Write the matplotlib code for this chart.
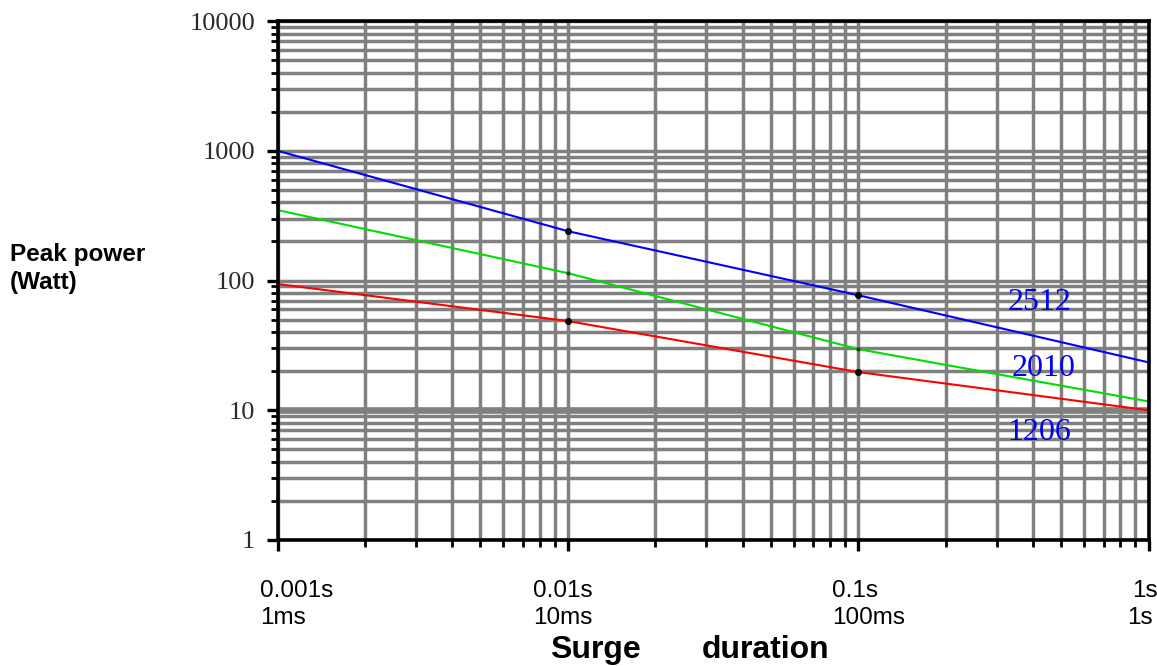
import matplotlib
matplotlib.use("Agg")
import matplotlib.pyplot as plt
from matplotlib import transforms
from matplotlib.ticker import LogLocator, NullFormatter

# ---- data ----
durations = [0.001, 0.01, 0.1, 1.0]
p2512 = [1000, 240, 77, 23.4]
p2010 = [349, 114, 29.6, 11.7]
p1206 = [94, 48.7, 19.7, 10.0]

series_names = ["2512", "2010", "1206"]
series_colors = ["#0000ff", "#00dd00", "#ff0000"]

ytick_vals = [1, 10, 100, 1000, 10000]
ytick_labels = ["1", "10", "100", "1000", "10000"]
xtick_vals = [0.001, 0.01, 0.1, 1.0]
xtick_line1 = ["0.001s", "0.01s", "0.1s", "1s"]
xtick_line2 = ["1ms", "10ms", "100ms", "1s"]

# ---- figure ----
fig = plt.figure(figsize=(11.57, 6.66), dpi=100)
ax = fig.add_axes([277.5 / 1157, 1 - 540 / 666, 871 / 1157, 519 / 666])
ax.set_xscale("log")
ax.set_yscale("log")
ax.set_xlim(0.001, 1)
ax.set_ylim(1, 10000)

grid_col = "#808080"
ax.set_axisbelow(True)
ax.xaxis.set_minor_locator(LogLocator(base=10, subs=range(2, 10)))
ax.yaxis.set_minor_locator(LogLocator(base=10, subs=range(2, 10)))
ax.xaxis.set_minor_formatter(NullFormatter())
ax.yaxis.set_minor_formatter(NullFormatter())
ax.grid(True, which="both", color=grid_col, linewidth=2.5)
ax.axhline(10, color=grid_col, linewidth=4.8, zorder=0.5)

for s in ax.spines.values():
    s.set_linewidth(2.6)
    s.set_color("black")
    s.set_zorder(5)

ax.tick_params(axis="both", which="major", length=8, width=2.4, color="black",
               direction="out", top=False, right=False)
ax.tick_params(axis="both", which="minor", length=5, width=2.0, color="black",
               direction="out", top=False, right=False)

ax.set_yticks(ytick_vals)
ax.set_yticklabels(ytick_labels, fontfamily="Liberation Serif", fontsize=19,
                   color="#2a2a2a")
ax.tick_params(axis="y", which="major", pad=8)
ax.set_xticks(xtick_vals)
ax.set_xticklabels([])

# ---- lines ----
for vals, col in zip([p2512, p2010, p1206], series_colors):
    ax.plot(durations, vals, color=col, linewidth=1.5, zorder=3)
ax.plot(durations[1:3], p2512[1:3], "o", color="black", markersize=4, zorder=4)
ax.plot(durations[1:3], p1206[1:3], "o", color="black", markersize=4, zorder=4)
ax.plot(durations[1:3], p2010[1:3], "o", color="#333333", markersize=2, zorder=4)

# ---- series labels ----
label_pos = [(0.328, 59.3), (0.339, 18.4), (0.326, 5.9)]
for name, (lx, ly) in zip(series_names, label_pos):
    ax.text(lx, ly, name, color="#0000ff", fontfamily="Liberation Serif",
            fontsize=23, ha="left", va="baseline", zorder=6)

# ---- x tick labels (two lines) ----
trans = transforms.blended_transform_factory(ax.transData, fig.transFigure)
off1 = [-17.5, -35, -26, -16.5]
off2 = [-17.5, -35, -26, -21.5]
for xv, t1, t2, d1, d2 in zip(xtick_vals, xtick_line1, xtick_line2, off1, off2):
    tr1 = transforms.offset_copy(trans, fig=fig, x=d1, y=0, units="dots")
    tr2 = transforms.offset_copy(trans, fig=fig, x=d2, y=0, units="dots")
    fig.text(xv, 1 - 597 / 666, t1, transform=tr1, ha="left", va="baseline",
             fontfamily="Liberation Sans", fontsize=17.5, color="black")
    fig.text(xv, 1 - 624 / 666, t2, transform=tr2, ha="left", va="baseline",
             fontfamily="Liberation Sans", fontsize=17.5, color="black")

# ---- axis titles ----
fig.text(550 / 1157, 1 - 658 / 666, "Surge", ha="left", va="baseline",
         fontfamily="Liberation Sans", fontweight="bold", fontsize=23)
fig.text(702 / 1157, 1 - 658 / 666, "duration", ha="left", va="baseline",
         fontfamily="Liberation Sans", fontweight="bold", fontsize=23)
fig.text(10 / 1157, 1 - 261 / 666, "Peak power", ha="left", va="baseline",
         fontfamily="Liberation Sans", fontweight="bold", fontsize=17.5)
fig.text(10 / 1157, 1 - 289 / 666, "(Watt)", ha="left", va="baseline",
         fontfamily="Liberation Sans", fontweight="bold", fontsize=17.5)

fig.savefig("out.png", dpi=100, facecolor="white")
